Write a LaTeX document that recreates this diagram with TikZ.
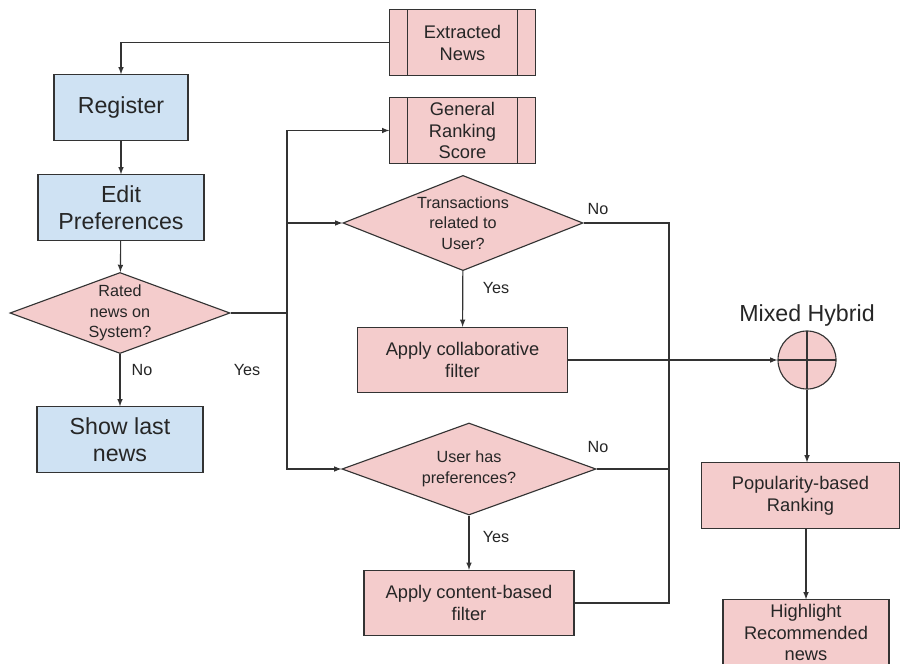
\documentclass[tikz,border=0pt]{standalone}
\usepackage{fontspec}
\setmainfont{Liberation Sans}
\usepackage{xcolor}
\usepackage{tikz}
\usetikzlibrary{shapes,positioning,calc}
\definecolor{boxpink}{HTML}{F4CCCC}
\definecolor{boxblue}{HTML}{CFE2F3}
\colorlet{edgegray}{black!80}

\begin{document}
\begin{tikzpicture}[x=0.025cm, y=-0.025cm,
  nodebox/.style={rectangle, draw=edgegray, line width=0.8pt, align=center, inner sep=1pt, text=black!85},
  userbox/.style={nodebox, fill=boxblue, minimum width=#1, minimum height=1.63cm, font=\fontsize{16.5}{19.5}\selectfont},
  taskbox/.style={nodebox, fill=boxpink, minimum width=#1, minimum height=1.63cm, font=\fontsize{13}{15.6}\selectfont},
  subproc/.style={taskbox=3.63cm, path picture={\draw[edgegray, line width=0.8pt] ([xshift=0.45cm]path picture bounding box.north west) -- ([xshift=0.45cm]path picture bounding box.south west) ([xshift=-0.45cm]path picture bounding box.north east) -- ([xshift=-0.45cm]path picture bounding box.south east);}},
  decision/.style={diamond, draw=edgegray, line width=0.8pt, fill=boxpink, align=center, inner sep=0pt, shape aspect=2.5, text=black!85, font=\fontsize{11.5}{14.5}\selectfont},
  answer/.style={text=black!85, font=\fontsize{11.5}{14}\selectfont},
  line/.style={draw=edgegray, line width=0.8pt},
  flow/.style={line, -latex}]
\path[use as bounding box, fill=white] (0,0) rectangle (901,664);

% Sources and user steps

\node[subproc] (extracted) at (462.5,42.5) {Extracted\\News};
\node[subproc] (general) at (462.5,130.5) {General\\Ranking\\Score};
\node[userbox=3.35cm] (register) at (121,107.5) {Register};
\node[userbox=4.15cm] (editpref) at (121,207.5) {Edit\\Preferences};
\node[decision, minimum width=5.5cm, minimum height=1.9cm] (rated) at (120,313) {Rated\\news on\\System?};
\node[userbox=4.15cm] (showlast) at (120,439.5) {Show last\\news};

% Filters

\node[decision, minimum width=6cm, minimum height=2.38cm] (related) at (463,223) {Transactions\\related to\\User?};
\node[taskbox=5.23cm] (collab) at (462.5,360) {Apply collaborative\\filter};
\node[decision, minimum width=6.35cm, minimum height=2.3cm] (haspref) at (469,469) {User has\\preferences?};
\node[taskbox=5.25cm] (content) at (469,603) {Apply content-based\\filter};

% Hybrid and ranking

\node[circle, draw=edgegray, line width=0.8pt, fill=boxpink, minimum size=1.45cm, path picture={\draw[edgegray, line width=0.8pt] (path picture bounding box.north) -- (path picture bounding box.south) (path picture bounding box.west) -- (path picture bounding box.east);}] (mixed) at (807,360) {};
\node[above=1pt of mixed, inner sep=2pt, text=black!85, font=\fontsize{16.5}{19.5}\selectfont] (mixedtitle) {Mixed Hybrid};
\node[taskbox=4.93cm] (popularity) at (800.5,495.5) {Popularity-based\\Ranking};
\node[taskbox=4.15cm] (highlight) at (806,632.5) {Highlight\\Recommended\\news};

% Answers

\node[answer] (ratedno) at (142,370) {No};
\node[answer] (ratedyes) at (247,370) {Yes};
\node[answer] (relatedno) at (598,209) {No};
\node[answer] (relatedyes) at (496,288) {Yes};
\node[answer] (hasprefno) at (598,447) {No};
\node[answer] (hasprefyes) at (496,537) {Yes};

% Connections

\coordinate (split) at (287,313);
\coordinate (merge) at (669,360);
\draw[flow] (extracted.west) -| (register.north);
\draw[flow] (register) -- (editpref);
\draw[flow] (editpref) -- (rated);
\draw[flow] (rated) -- (showlast);
\draw[line] (rated.east) -- (split);
\draw[flow] (split) |- (general.west);
\draw[flow] (split) |- (related.west);
\draw[flow] (split) |- (haspref.west);
\draw[flow] (related) -- (collab);
\draw[flow] (haspref) -- (content);
\draw[line] (related.east) -| (merge);
\draw[line] (haspref.east) -| (merge);
\draw[line] (content.east) -| (merge);
\draw[flow] (collab.east) -- (mixed.west);
\draw[flow] (mixed.south) -- (mixed.south |- popularity.north);
\draw[flow] (highlight.north |- popularity.south) -- (highlight.north);
\end{tikzpicture}
\end{document}
